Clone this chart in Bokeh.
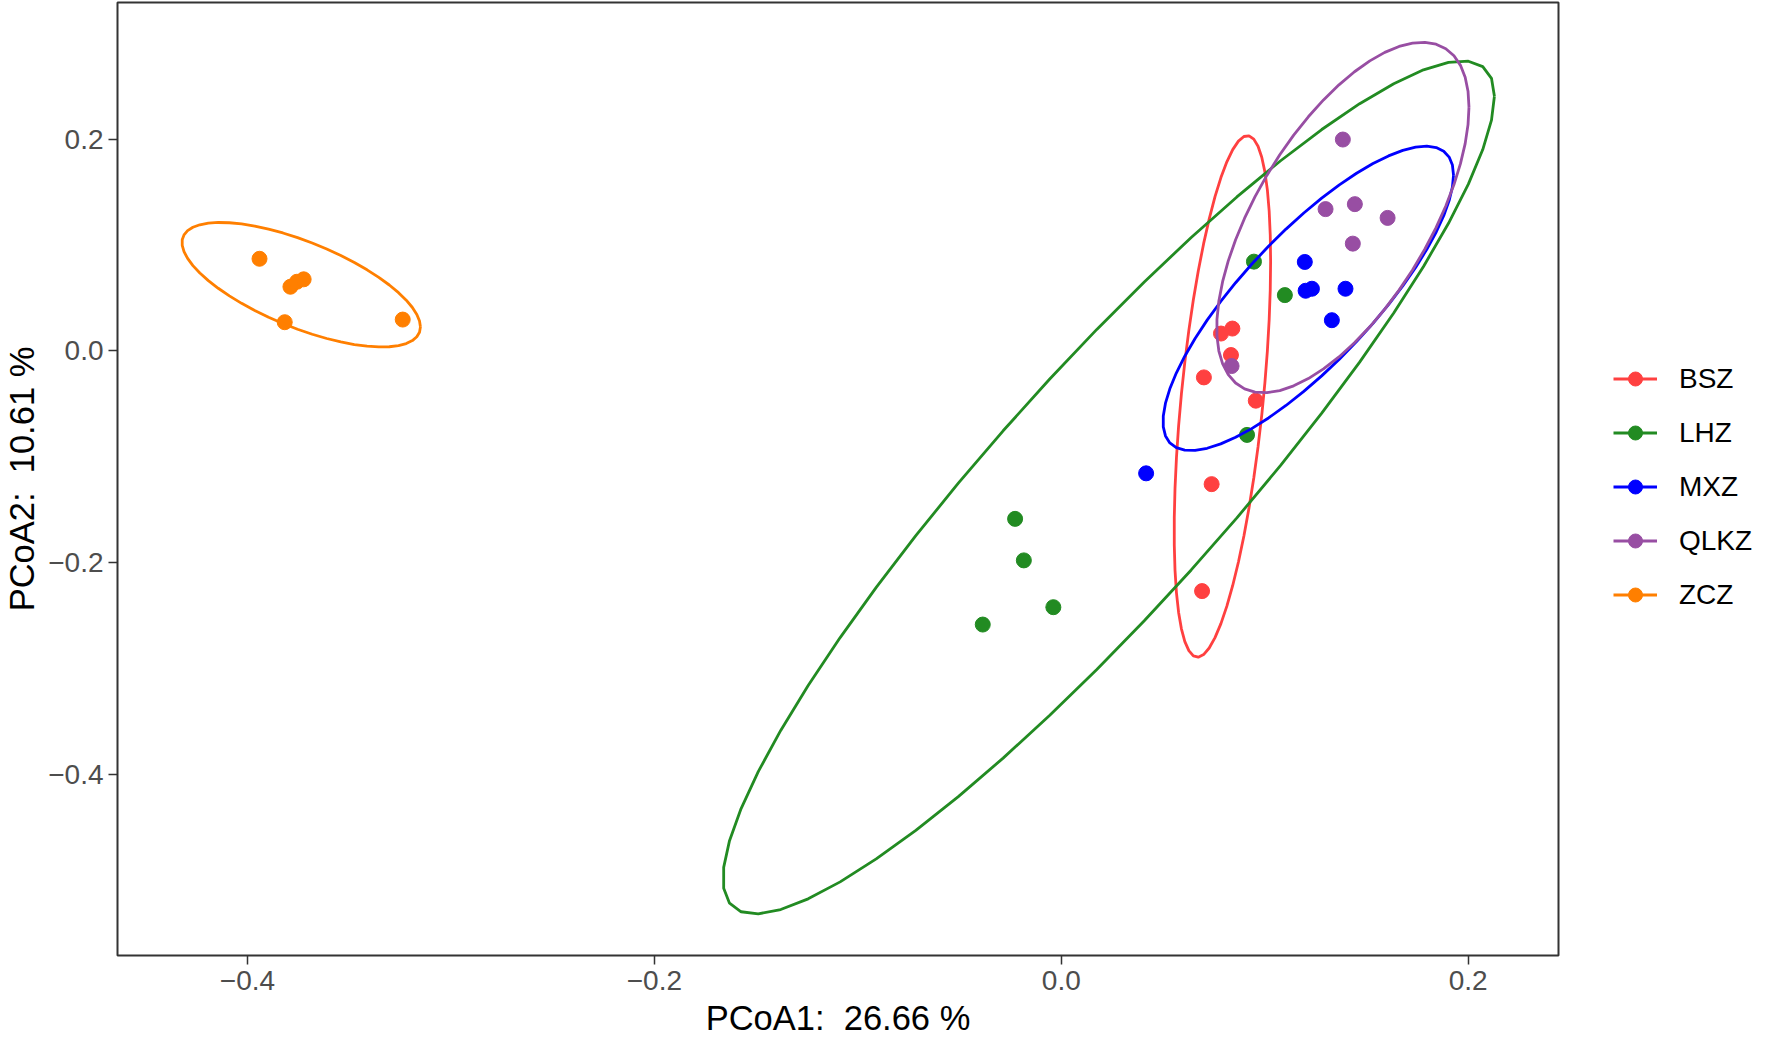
import numpy as np
from bokeh.plotting import figure
from bokeh.models import (Legend, LegendItem, FixedTicker,
                          Range1d, CustomJSTickFormatter)
from bokeh.embed import file_html
from bokeh.resources import INLINE

# ---------------- data ----------------
groups = ["BSZ", "LHZ", "MXZ", "QLKZ", "ZCZ"]
colors = ["#FF4040", "#228B22", "#0000FF", "#984EA3", "#FF7F00"]

bsz_x = [0.0841, 0.0785, 0.0834, 0.0701, 0.0956, 0.0739, 0.0692]
bsz_y = [0.0210, 0.0163, -0.0040, -0.0251, -0.0471, -0.1259, -0.2269]

lhz_x = [0.0947, 0.1099, 0.0913, -0.0227, -0.0184, -0.0039, -0.0386]
lhz_y = [0.0842, 0.0526, -0.0794, -0.1587, -0.1979, -0.2421, -0.2585]

mxz_x = [0.1197, 0.1201, 0.1232, 0.1397, 0.1330, 0.0417]
mxz_y = [0.0839, 0.0567, 0.0586, 0.0586, 0.0289, -0.1157]

qlkz_x = [0.1384, 0.1299, 0.1443, 0.1604, 0.1433, 0.0837]
qlkz_y = [0.1995, 0.1338, 0.1385, 0.1255, 0.1012, -0.0144]

zcz_x = [-0.3941, -0.3817, -0.3789, -0.3757, -0.3724, -0.3237]
zcz_y = [0.0869, 0.0270, 0.0605, 0.0652, 0.0675, 0.0295]

# 95% ellipses: centre, half extent in x and y, correlation
ell_cx = [0.0792, 0.0233, 0.1214, 0.1384, -0.3736]
ell_cy = [-0.0431, -0.1290, 0.0495, 0.1259, 0.0624]
ell_rx = [0.0237, 0.1896, 0.0714, 0.0620, 0.0586]
ell_ry = [0.2463, 0.4028, 0.1437, 0.1655, 0.0588]
ell_rho = [0.518, 0.917, 0.81, 0.63, -0.677]

x_ticks = [-0.4, -0.2, 0.0, 0.2]
y_ticks = [-0.4, -0.2, 0.0, 0.2]
x_label = "PCoA1:\u00a0 26.66 %"
y_label = "PCoA2:\u00a0 10.61 %"

pts_x = [bsz_x, lhz_x, mxz_x, qlkz_x, zcz_x]
pts_y = [bsz_y, lhz_y, mxz_y, qlkz_y, zcz_y]

FONT = "Liberation Sans"

p = figure(frame_width=1441, frame_height=953,
           x_range=Range1d(-0.4639, 0.2444), y_range=Range1d(-0.571, 0.3289),
           output_backend="svg", toolbar_location=None,
           min_border_left=90, min_border_top=2, min_border_bottom=0,
           min_border_right=0, background_fill_color="white",
           border_fill_color="white")

p.xgrid.visible = False
p.ygrid.visible = False
p.outline_line_color = "#333333"
p.outline_line_width = 2
p.outline_line_alpha = 1.0

fmt = CustomJSTickFormatter(code="return tick.toFixed(1).replace('-', '\u2212');")
for ax, ticks in ((p.xaxis, x_ticks), (p.yaxis, y_ticks)):
    ax.ticker = FixedTicker(ticks=ticks)
    ax.formatter = fmt
    ax.axis_line_color = None
    ax.major_tick_line_color = "#333333"
    ax.major_tick_line_width = 1.5
    ax.major_tick_out = 9
    ax.major_tick_in = 0
    ax.minor_tick_line_color = None
    ax.major_label_text_font = FONT
    ax.major_label_text_font_size = "28px"
    ax.major_label_text_color = "#4D4D4D"
    ax.axis_label_text_font = FONT
    ax.axis_label_text_font_size = "34.5px"
    ax.axis_label_text_font_style = "normal"
    ax.axis_label_text_color = "black"

p.xaxis.axis_label = x_label
p.yaxis.axis_label = y_label
p.xaxis.major_label_standoff = 6
p.yaxis.major_label_standoff = 5
p.xaxis.axis_label_standoff = 6
p.yaxis.axis_label_standoff = 4

items = []
scat = []
for g, c, xs, ys in zip(groups, colors, pts_x, pts_y):
    r = p.scatter(x=xs, y=ys, size=15, color=c, line_color=c)
    scat.append(r)

t = np.linspace(0, 2 * np.pi, 52)
for i, (g, c) in enumerate(zip(groups, colors)):
    cx, cy, rx, ry, rho = ell_cx[i], ell_cy[i], ell_rx[i], ell_ry[i], ell_rho[i]
    ex = cx + rx * np.cos(t)
    ey = cy + ry * (rho * np.cos(t) + np.sqrt(1 - rho ** 2) * np.sin(t))
    lr = p.line(x=ex, y=ey, line_color=c, line_width=2.8)
    items.append(LegendItem(label=g, renderers=[lr, scat[i]]))

legend = Legend(items=items, location=(55, 343))
legend.label_text_font = FONT
legend.label_text_font_size = "28px"
legend.label_text_color = "black"
legend.glyph_width = 44
legend.glyph_height = 35
legend.label_standoff = 22
legend.spacing = 19
legend.padding = 8
legend.margin = 0
legend.border_line_color = None
legend.background_fill_alpha = 0
p.add_layout(legend, "right")

open("out.html", "w").write(file_html(p, INLINE))
